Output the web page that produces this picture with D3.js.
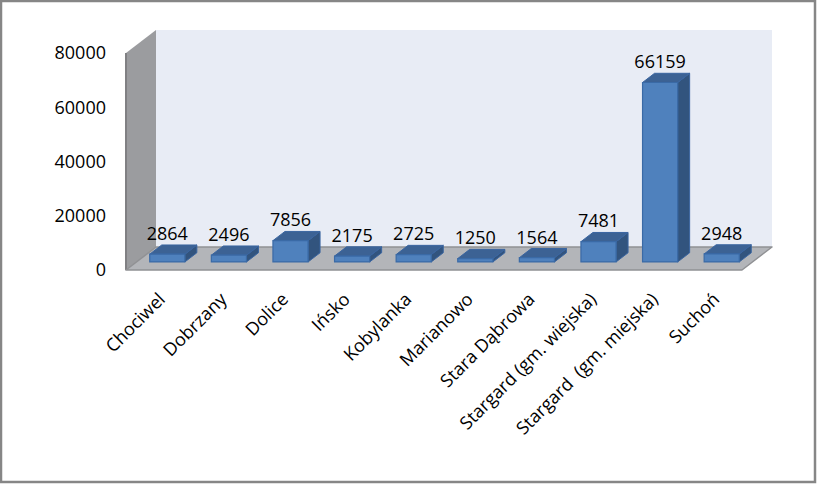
<!DOCTYPE html>
<html>
<head>
<meta charset="utf-8">
<script src="https://cdn.jsdelivr.net/npm/d3@7"></script>
<style>
  body { margin: 0; background: #fff; }
  text { font-family: "Open Sans", sans-serif; fill: #000; }
</style>
</head>
<body>
<svg width="817" height="484"></svg>
<script>
  let categories = ["Chociwel", "Dobrzany", "Dolice", "Ińsko", "Kobylanka", "Marianowo",
                    "Stara Dąbrowa", "Stargard (gm. wiejska)", "Stargard  (gm. miejska)", "Suchoń"];
  let values = [2864, 2496, 7856, 2175, 2725, 1250, 1564, 7481, 66159, 2948];
  let yTicks = [0, 20000, 40000, 60000, 80000];

  let svg = d3.select("svg");

  // depth of the 3d box (front plane -> back wall)
  let depthX = 30, depthY = -23;
  let f0 = 0.35, f1 = 0.75; // bar front / back position in depth

  let x = d3.scaleBand()
      .domain(categories)
      .range([126, 742])
      .paddingInner(0.43)
      .paddingOuter(0.215);

  let y = d3.scaleLinear()
      .domain([0, 80000])
      .range([270, 53]);

  let p = (px, py, f) => [px + depthX * f, py + depthY * f];
  let poly = (pts) => "M" + pts.map((d) => d.join(",")).join("L") + "Z";

  // outer border
  svg.append("rect")
      .attr("x", 1).attr("y", 1)
      .attr("width", 814).attr("height", 481)
      .attr("fill", "#fff")
      .attr("stroke", "#868686")
      .attr("stroke-width", 2.5);

  let x0 = x.range()[0], x1 = x.range()[1];
  let yTop = y(80000), yBase = y(0);

  // back wall
  svg.append("path")
      .attr("d", poly([p(x0, yTop, 1), p(x1, yTop, 1), p(x1, yBase, 1), p(x0, yBase, 1)]))
      .attr("fill", "#e8ecf5");

  // side wall
  svg.append("path")
      .attr("d", poly([[x0, yTop], p(x0, yTop, 1), p(x0, yBase, 1), [x0, yBase]]))
      .attr("fill", "#9b9c9f");
  svg.append("line")
      .attr("x1", x0).attr("x2", x0)
      .attr("y1", yTop).attr("y2", yBase)
      .attr("stroke", "#808083")
      .attr("stroke-width", 2);

  // floor
  svg.append("path")
      .attr("d", poly([[x0, yBase], [x1, yBase], p(x1, yBase, 1), p(x0, yBase, 1)]))
      .attr("fill", "#b3b5b9")
      .attr("stroke", "#909194")
      .attr("stroke-width", 1.5)
      .attr("stroke-linejoin", "round");

  // bars
  let bar = svg.selectAll("g.bar")
      .data(categories.map((c, i) => ({ name: c, value: values[i] })))
    .enter().append("g")
      .attr("class", "bar");

  let faces = (d) => {
    let bx0 = x(d.name), bx1 = x(d.name) + x.bandwidth();
    let yt = y(d.value);
    return {
      front: [p(bx0, yt, f0), p(bx1, yt, f0), p(bx1, yBase, f0), p(bx0, yBase, f0)],
      top: [p(bx0, yt, f0), p(bx0, yt, f1), p(bx1, yt, f1), p(bx1, yt, f0)],
      side: [p(bx1, yt, f0), p(bx1, yt, f1), p(bx1, yBase, f1), p(bx1, yBase, f0)]
    };
  };

  bar.append("path")
      .attr("d", (d) => poly(faces(d).side))
      .attr("fill", "#32547e")
      .attr("stroke", "#3a65a0")
      .attr("stroke-width", 1);
  bar.append("path")
      .attr("d", (d) => poly(faces(d).top))
      .attr("fill", "#3c6294")
      .attr("stroke", "#3a65a0")
      .attr("stroke-width", 1);
  bar.append("path")
      .attr("d", (d) => poly(faces(d).front))
      .attr("fill", "#4f81bd")
      .attr("stroke", "#3a6aa6")
      .attr("stroke-width", 1.2);

  bar.append("text")
      .attr("x", (d) => p(x(d.name) + x.bandwidth() / 2, 0, f0)[0])
      .attr("y", (d) => p(0, y(d.value), f1)[1] - 5)
      .attr("text-anchor", "middle")
      .style("font-size", "18px")
      .text((d) => d.value);

  // y axis labels
  svg.selectAll("text.ytick")
      .data(yTicks)
    .enter().append("text")
      .attr("class", "ytick")
      .attr("x", 106)
      .attr("y", (d) => y(d))
      .attr("dy", "0.35em")
      .attr("text-anchor", "end")
      .style("font-size", "18px")
      .text((d) => d);

  // category labels
  svg.selectAll("text.xcat")
      .data(categories)
    .enter().append("text")
      .attr("class", "xcat")
      .attr("transform", (d) => `translate(${x(d) + x.bandwidth() / 2 + 5}, ${yBase + 26}) rotate(-45)`)
      .attr("text-anchor", "end")
      .attr("dy", "0.35em")
      .style("font-size", "18px")
      .style("white-space", "pre")
      .text((d) => d);
</script>
</body>
</html>
